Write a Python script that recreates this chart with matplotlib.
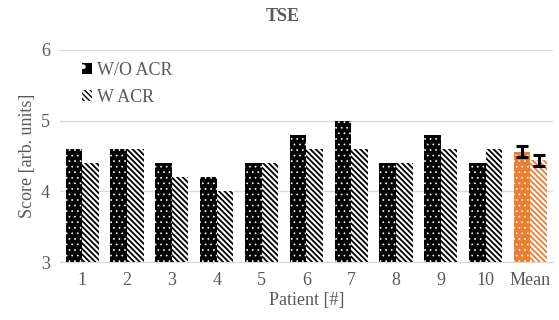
import matplotlib.pyplot as plt
import numpy as np
from matplotlib.patches import Patch

plt.rcParams['font.family'] = ['Liberation Serif', 'DejaVu Serif']

categories = ['1', '2', '3', '4', '5', '6', '7', '8', '9', '10', 'Mean']
wo_acr = [4.6, 4.6, 4.4, 4.2, 4.4, 4.8, 5.0, 4.4, 4.8, 4.4, 4.56]
w_acr = [4.4, 4.6, 4.2, 4.0, 4.4, 4.6, 4.6, 4.4, 4.6, 4.6, 4.44]
mean_err_wo = 0.08
mean_err_w = 0.08

grey = '#595959'
orange = '#ED7D31'
dots = '...'
stripes = '\\' * 6

fig = plt.figure(figsize=(5.59, 3.2), dpi=100)
ax = fig.add_axes([0.107, 0.181, 0.882, 0.663])

x = np.arange(len(categories))
w = 0.37
n = len(categories) - 1


def bars(xs, vals, face, edge, hatch, hlw):
    with plt.rc_context({'hatch.linewidth': hlw}):
        ax.bar(xs, vals, w, color=face, edgecolor=edge, hatch=hatch,
               linewidth=0, zorder=3)


# patient bars
bars(x[:n] - w/2, wo_acr[:n], 'black', 'white', dots, 0.5)
bars(x[:n] + w/2, w_acr[:n], 'white', 'black', stripes, 1.3)

# mean bars
bars(x[n] - w/2, wo_acr[n], orange, 'white', dots, 0.5)
bars(x[n] + w/2, w_acr[n], 'white', orange, stripes, 1.3)
ax.errorbar([x[n] - w/2, x[n] + w/2], [wo_acr[n], w_acr[n]],
            yerr=[mean_err_wo, mean_err_w], fmt='none', ecolor='black',
            elinewidth=2.2, capsize=4.5, capthick=2.2, zorder=4)

ax.set_ylim(3, 6)
ax.set_xlim(-0.5, len(categories) - 0.5)
ax.set_yticks([3, 4, 5, 6])
ax.set_xticks(x)
ax.set_xticklabels(categories)
ax.yaxis.grid(True, color='#d9d9d9', linewidth=1, zorder=0)
for s in ['top', 'right', 'left']:
    ax.spines[s].set_visible(False)
ax.spines['bottom'].set_color('#d9d9d9')
ax.tick_params(axis='both', length=0, labelsize=13, colors=grey, pad=7)

ax.set_xlabel('Patient [#]', fontsize=13, color=grey, labelpad=2)
ax.set_ylabel('Score [arb. units]', fontsize=13, color=grey, labelpad=4)
fig.suptitle('TSE', x=0.505, y=0.975, fontsize=13, fontweight='bold', color=grey)

with plt.rc_context({'hatch.linewidth': 0.5}):
    h1 = Patch(facecolor='black', edgecolor='white', hatch='.', linewidth=0)
with plt.rc_context({'hatch.linewidth': 1.3}):
    h2 = Patch(facecolor='white', edgecolor='black', hatch=stripes, linewidth=0)
ax.legend([h1, h2], ['W/O ACR', 'W ACR'], loc='upper left', bbox_to_anchor=(0.012, 1.02),
          frameon=False, fontsize=13, labelcolor=grey, handlelength=0.55,
          handleheight=0.55, handletextpad=0.3, labelspacing=0.55)

fig.savefig('out.png', dpi=100)
